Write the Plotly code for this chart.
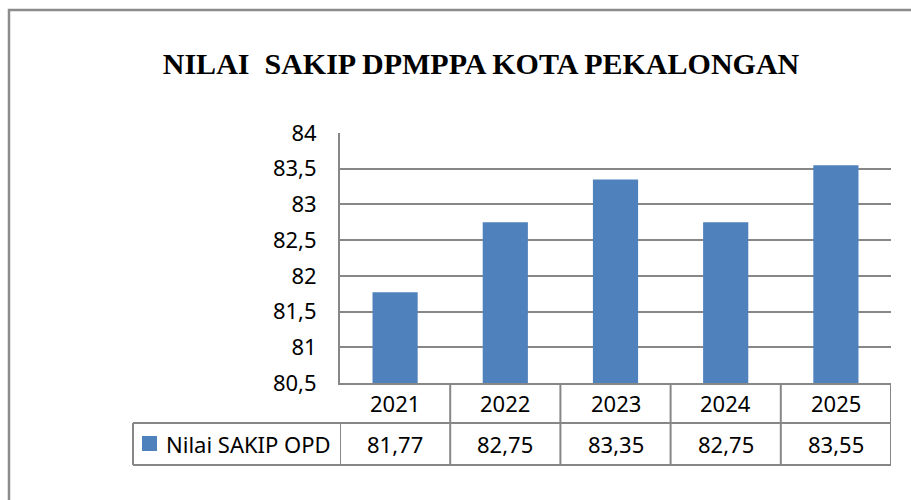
import plotly.graph_objects as go

title_text = "NILAI  SAKIP DPMPPA KOTA PEKALONGAN"
series_name = "Nilai SAKIP OPD"
years = ["2021", "2022", "2023", "2024", "2025"]
values = [81.77, 82.75, 83.35, 82.75, 83.55]
value_labels = ["81,77", "82,75", "83,35", "82,75", "83,55"]

BAR = "#4F81BD"
GRID = "#878787"
FONT = "Noto Sans"
FS = 22

# pixel geometry helpers (plot area: x 340..891, y 133..383)
L, R, T, B = 340, 891, 133, 383
def px(x):
    return (x - L) / (R - L)
def py(y):
    return (B - y) / (B - T)

fig = go.Figure()
fig.add_trace(go.Bar(x=years, y=values, name=series_name, marker_color=BAR,
                     marker_line_width=0, showlegend=False))

shapes = []
line = dict(color=GRID, width=2)
# outer chart border
shapes.append(dict(type="rect", xref="paper", yref="paper",
                   x0=px(9), x1=px(930), y0=py(10), y1=py(520), line=dict(color="#8c8c8c", width=2.5)))
# data table horizontal lines
for yy in (423, 465):
    shapes.append(dict(type="line", xref="paper", yref="paper", x0=px(133), x1=1, y0=py(yy), y1=py(yy), line=line))
# data table verticals at category boundaries
for i in range(len(years) + 1):
    xb = i - 0.5
    y0 = 0 if i > 0 else py(423)
    shapes.append(dict(type="line", xref="x", yref="paper", x0=xb, x1=xb, y0=y0, y1=py(465), line=line))
# legend cell left border
shapes.append(dict(type="line", xref="paper", yref="paper", x0=px(133), x1=px(133), y0=py(423), y1=py(465), line=line))
# legend key
shapes.append(dict(type="rect", xref="paper", yref="paper", x0=px(142), x1=px(157), y0=py(436), y1=py(451),
                   fillcolor=BAR, line=dict(width=0)))

annotations = []
for i, (yr, vl) in enumerate(zip(years, value_labels)):
    annotations.append(dict(x=i, xref="x", y=py(403), yref="paper", text=yr, showarrow=False,
                            font=dict(family=FONT, size=FS, color="black"), yanchor="middle"))
    annotations.append(dict(x=i, xref="x", y=py(444), yref="paper", text=vl, showarrow=False,
                            font=dict(family=FONT, size=FS, color="black"), yanchor="middle"))
annotations.append(dict(x=px(164), xref="paper", y=py(444), yref="paper", text=series_name, showarrow=False,
                        xanchor="left", yanchor="middle", font=dict(family=FONT, size=FS, color="black")))

fig.update_layout(
    width=911, height=500,
    margin=dict(l=L, r=911 - R, t=T, b=500 - B),
    paper_bgcolor="white", plot_bgcolor="white",
    separators=",.",
    bargap=0.59,
    title=dict(text="<b>" + title_text + "</b>", x=481 / 911, xanchor="center",
               y=1 - 63 / 500, yanchor="middle",
               font=dict(family="Liberation Serif", size=30, color="black")),
    xaxis=dict(type="category", showticklabels=False, showgrid=False, showline=True, linecolor=GRID,
               linewidth=2, ticks="", range=[-0.5, 4.5]),
    yaxis=dict(range=[80.5, 84], dtick=0.5, tick0=80.5, showgrid=True, gridcolor=GRID, gridwidth=2,
               showline=True, linecolor=GRID, linewidth=2, ticks="", zeroline=False,
               tickfont=dict(family=FONT, size=FS, color="black"), ticklabelstandoff=17),
    shapes=shapes, annotations=annotations, showlegend=False,
)

fig.write_html("out.html", config={"displayModeBar": False},
               post_script="document.body.style.margin='0';")
